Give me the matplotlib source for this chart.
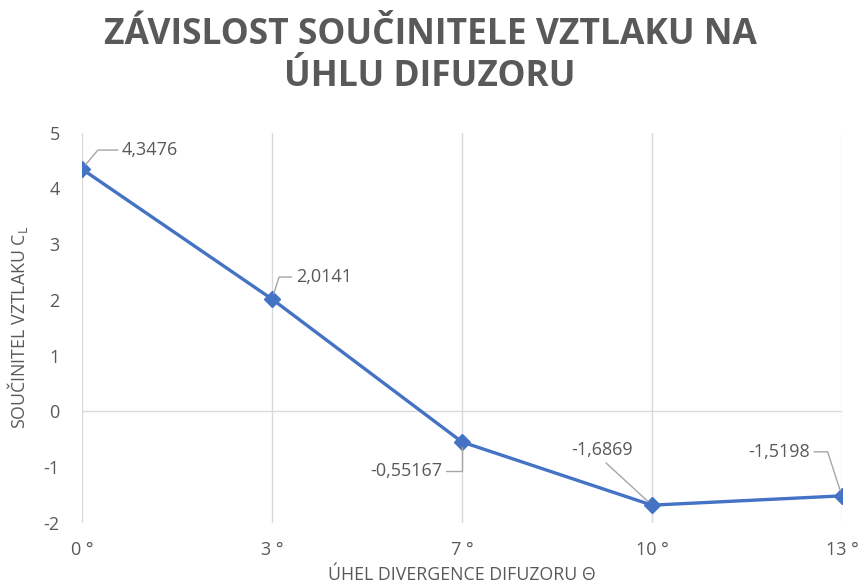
import matplotlib.pyplot as plt

# lift coefficient vs. diffuser angle
angles = ["0 °", "3 °", "7 °", "10 °", "13 °"]
cl = [4.3476, 2.0141, -0.55167, -1.6869, -1.5198]
cl_text = ["4,3476", "2,0141", "-0,55167", "-1,6869", "-1,5198"]

grey = "#595959"
blue = "#4472C4"
grid = "#d9d9d9"

plt.rcParams['font.family'] = ['Open Sans', 'DejaVu Sans']
plt.rcParams['axes.unicode_minus'] = False

fig = plt.figure(figsize=(8.6, 5.86), dpi=100)
ax = fig.add_axes([0.0953, 0.1082, 0.8837, 0.6653])

x = list(range(len(angles)))
ax.plot(x, cl, color=blue, lw=2.4, marker='D', ms=8, zorder=3)

ax.set_xlim(0, len(angles) - 1)
ax.set_ylim(-2, 5)
ax.set_xticks(x)
ax.set_xticklabels(angles)
ax.set_yticks(range(-2, 6))
ax.tick_params(axis='x', length=0, pad=13, labelsize=13, labelcolor=grey)
ax.tick_params(axis='y', length=0, pad=16, labelsize=13, labelcolor=grey)
for s in ax.spines.values():
    s.set_visible(False)
ax.grid(axis='x', color=grid, lw=1)
ax.axhline(0, color=grid, lw=1, zorder=1)

# data labels with leader lines (offsets in pixels)
labels = [
    dict(off=(40, 19), ha='left', rel=(0, 0.5), cs='angle,angleA=0,angleB=50,rad=0'),
    dict(off=(24, 22), ha='left', rel=(0, 0.5), cs='angle,angleA=0,angleB=72,rad=0'),
    dict(off=(-20, -29), ha='right', rel=(1, 0.5), cs='angle,angleA=0,angleB=90,rad=0'),
    dict(off=(-50, 55), ha='center', rel=(0.5, 0), cs='arc3'),
    dict(off=(-32, 44), ha='right', rel=(1, 0.5), cs='angle,angleA=0,angleB=108,rad=0'),
]
for i, (v, t, d) in enumerate(zip(cl, cl_text, labels)):
    ax.annotate(t, xy=(i, v), xytext=d['off'], textcoords='offset pixels',
                ha=d['ha'], va='center', fontsize=13, color=grey,
                arrowprops=dict(arrowstyle='-', color='#a6a6a6', lw=1,
                                connectionstyle=d['cs'], relpos=d['rel'],
                                shrinkA=1, shrinkB=4))

ax.set_xlabel("ÚHEL DIVERGENCE DIFUZORU Θ", fontsize=12.8, color=grey, labelpad=5)
ax.set_ylabel("SOUČINITEL VZTLAKU C$\\mathregular{_L}$", fontsize=12.8, color=grey, labelpad=10)

fig.text(0.5, 0.941, "ZÁVISLOST SOUČINITELE VZTLAKU NA", ha='center', va='center',
         fontsize=25.5, fontweight='bold', color=grey)
fig.text(0.5, 0.869, "ÚHLU DIFUZORU", ha='center', va='center',
         fontsize=25.5, fontweight='bold', color=grey)

fig.savefig("out.png", dpi=100)
